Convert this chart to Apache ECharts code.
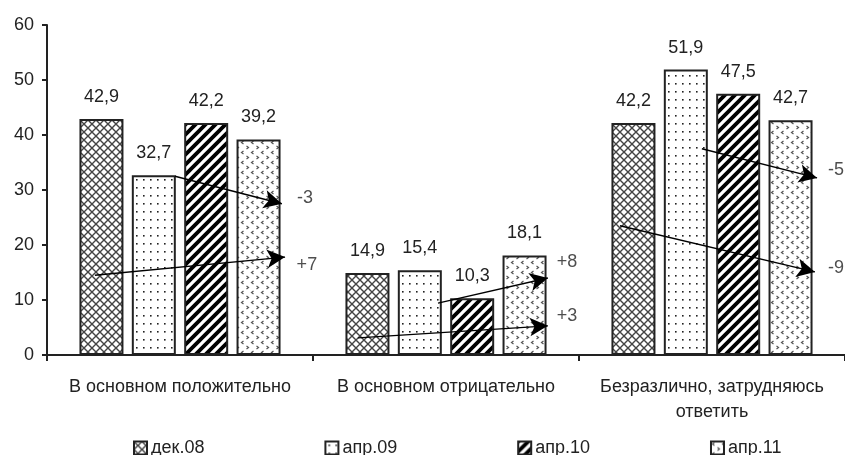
<!DOCTYPE html>
<html>
<head>
<meta charset="utf-8">
<script src="https://cdn.jsdelivr.net/npm/echarts@6/dist/echarts.min.js"></script>
<style>
  html, body { margin: 0; padding: 0; background: #fff; }
  #chart { width: 845px; height: 455px; }
</style>
</head>
<body>
<div id="chart"></div>
<script>
// data
var categories = ['В основном положительно', 'В основном отрицательно', 'Безразлично, затрудняюсь\nответить'];
var seriesNames = ['дек.08', 'апр.09', 'апр.10', 'апр.11'];
var dec08 = [42.9, 14.9, 42.2];
var apr09 = [32.7, 15.4, 51.9];
var apr10 = [42.2, 10.3, 47.5];
var apr11 = [39.2, 18.1, 42.7];

// change arrows: [from x, from y, to x, to y] in axis units (x 0..3 across groups)
var arrowLines = [
  [0.481, 32.5, 0.883, 27.5],
  [0.180, 14.5, 0.895, 17.8],
  [1.470, 9.45, 1.883, 14.0],
  [1.169, 3.1, 1.883, 5.3],
  [2.462, 37.5, 2.895, 32.2],
  [2.154, 23.5, 2.887, 15.1]
];
var arrowTexts = ['-3', '+7', '+8', '+3', '-5', '-9'];
var arrowTextPos = [
  [0.970, 28.5],
  [0.977, 16.4],
  [1.955, 16.9],
  [1.955, 7.1],
  [2.966, 33.6],
  [2.966, 15.8]
];

var FONT = '"Liberation Sans", Arial, sans-serif';

function makePattern(kind) {
  var c = document.createElement('canvas');
  var ctx = c.getContext('2d');
  if (kind === 'cross') {
    c.width = 8; c.height = 8;
    ctx.fillStyle = '#fff'; ctx.fillRect(0, 0, 8, 8);
    ctx.strokeStyle = '#444'; ctx.lineWidth = 1.4;
    ctx.beginPath();
    ctx.moveTo(0, 0); ctx.lineTo(8, 8);
    ctx.moveTo(8, 0); ctx.lineTo(0, 8);
    ctx.stroke();
  } else if (kind === 'dots') {
    c.width = 7; c.height = 8;
    ctx.fillStyle = '#fff'; ctx.fillRect(0, 0, 7, 8);
    ctx.fillStyle = '#222';
    ctx.fillRect(3, 3, 1.6, 1.6);
  } else if (kind === 'stripes') {
    c.width = 10; c.height = 10;
    ctx.fillStyle = '#fff'; ctx.fillRect(0, 0, 10, 10);
    ctx.strokeStyle = '#000'; ctx.lineWidth = 3.8;
    ctx.beginPath();
    ctx.moveTo(-5, 5); ctx.lineTo(5, -5);
    ctx.moveTo(0, 10); ctx.lineTo(10, 0);
    ctx.moveTo(5, 15); ctx.lineTo(15, 5);
    ctx.stroke();
  } else {
    c.width = 10; c.height = 10;
    ctx.fillStyle = '#fff'; ctx.fillRect(0, 0, 10, 10);
    ctx.strokeStyle = '#555'; ctx.lineWidth = 1.2;
    ctx.beginPath();
    ctx.moveTo(3.5, 1); ctx.lineTo(1.5, 2.5); ctx.lineTo(3.5, 4);
    ctx.moveTo(6.5, 6); ctx.lineTo(8.5, 7.5); ctx.lineTo(6.5, 9);
    ctx.stroke();
  }
  return { image: c, repeat: 'repeat' };
}

var fills = [makePattern('cross'), makePattern('dots'), makePattern('stripes'), makePattern('chev')];
var values = [dec08, apr09, apr10, apr11];

var chart = echarts.init(document.getElementById('chart'), null, { renderer: 'canvas' });

var barSeries = seriesNames.map(function (name, i) {
  return {
    name: name,
    type: 'bar',
    data: values[i],
    barWidth: 44,
    barGap: '19%',
    itemStyle: { color: fills[i], borderColor: '#222', borderWidth: 2 },
    label: {
      show: true,
      position: 'top',
      distance: 13,
      color: '#222',
      fontFamily: FONT,
      fontSize: 18,
      formatter: function (p) { return String(p.value).replace('.', ','); }
    },
    animation: false
  };
});

var option = {
  animation: false,
  grid: { left: 47, right: 0, top: 25, bottom: 100, containLabel: false },
  legend: {
    data: seriesNames,
    left: 128,
    top: 434,
    icon: 'rect',
    itemWidth: 13,
    itemHeight: 13,
    itemGap: 120,
    itemStyle: { borderColor: '#222', borderWidth: 2 },
    textStyle: { fontFamily: FONT, fontSize: 18, color: '#222', padding: [0, 0, 0, -1] }
  },
  xAxis: [{
    type: 'category',
    data: categories,
    axisLine: { lineStyle: { color: '#222', width: 2 } },
    axisTick: { show: true, length: 6, lineStyle: { color: '#222', width: 2 } },
    axisLabel: { interval: 0, color: '#222', fontFamily: FONT, fontSize: 18, lineHeight: 25, margin: 20 }
  }, {
    type: 'value',
    min: 0,
    max: 3,
    show: false
  }],
  yAxis: {
    type: 'value',
    min: 0,
    max: 60,
    interval: 10,
    splitLine: { show: false },
    axisLine: { show: true, lineStyle: { color: '#222', width: 2 } },
    axisTick: { show: true, length: 5, lineStyle: { color: '#222', width: 2 } },
    axisLabel: { color: '#222', fontFamily: FONT, fontSize: 18, margin: 13 }
  },
  series: barSeries.concat([{
    type: 'line',
    xAxisIndex: 1,
    data: [],
    silent: true,
    markLine: {
      silent: true,
      symbol: ['none', 'arrow'],
      symbolSize: [14, 18],
      lineStyle: { color: '#000', width: 1.3, type: 'solid' },
      label: { show: false },
      data: arrowLines.map(function (a) {
        return [{ coord: [a[0], a[1]] }, { coord: [a[2], a[3]] }];
      })
    }
  }, {
    type: 'scatter',
    xAxisIndex: 1,
    symbolSize: 0,
    silent: true,
    data: arrowTextPos.map(function (p, i) {
      return { value: p, name: arrowTexts[i] };
    }),
    label: {
      show: true,
      position: 'inside',
      formatter: '{b}',
      color: '#222',
      fontFamily: FONT,
      fontSize: 18
    }
  }])
};

chart.setOption(option);
</script>
</body>
</html>
